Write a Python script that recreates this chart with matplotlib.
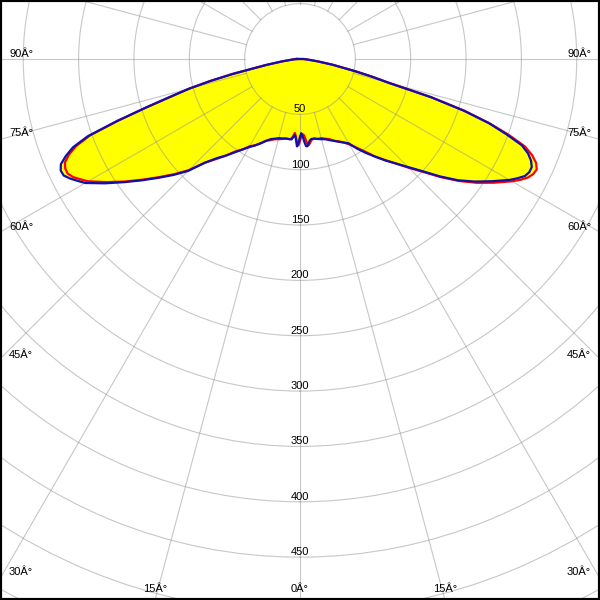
import numpy as np
import matplotlib
matplotlib.use('Agg')
import matplotlib.pyplot as plt
from matplotlib.patches import Rectangle

# angulos gamma (negativo = lado izquierdo) y valores en cd
gamma = [-90, -87.5, -85, -82.5, -80, -77.5, -76.25, -75, -73.75, -72.5, -71.25, -70,
         -68.75, -67.5, -66.25, -65, -63.75, -62.5, -61.25, -60, -57.5, -55, -52.5, -50,
         -47.5, -45, -42.5, -40, -37.5, -35, -32.5, -30, -27.5, -25, -22.5, -20, -17.5,
         -15, -12.5, -10,
         -8, -7, -6, -5, -4, -3, -2, -1, 0, 1, 2, 3, 4, 5, 6, 7, 8,
         10, 12.5, 15, 17.5, 20, 22.5, 25, 27.5, 30, 32.5, 35, 37.5, 40, 42.5, 45,
         47.5, 50, 52.5, 55, 57.5, 60, 61.25, 62.5, 63.75, 65, 66.25, 67.5, 68.75,
         70, 71.25, 72.5, 73.75, 75, 76.25, 77.5, 80, 82.5, 85, 87.5, 90]

blue_cd = [3, 5, 8, 16, 31, 62, 83, 104, 122, 146, 175, 204,
           220, 229, 236, 238.5, 238, 234, 229, 224, 209, 194, 180, 167,
           155, 143, 127, 117, 110, 103, 97, 92, 88, 84, 80, 77, 75.5,
           74, 73.5, 73,
           73, 73, 73, 71, 69, 72, 79, 76, 70, 67, 70, 75, 79, 79, 76, 74, 73,
           73, 74, 75, 76, 78, 80, 82.5, 85, 88, 96, 103.5, 111, 119.5, 128, 138,
           150, 165, 180, 193, 205.5, 218.5, 224, 229, 231, 231, 228, 223, 215,
           198, 180, 155, 123, 82, 66, 51, 30, 16, 8, 5, 3]

red_cd = [3, 5, 8, 16, 31, 62, 83, 104, 122, 146, 174, 202,
          217, 226, 232, 234, 234, 231, 226, 221, 207, 193, 179, 166,
          154, 142, 127, 118, 110, 102, 97, 91, 88, 84, 80, 78, 76,
          75, 74, 73,
          73, 73, 72, 70, 67, 70, 76, 78, 74, 70, 68, 69, 73, 77, 78, 76, 74,
          73, 74, 74, 75.5, 77, 80, 82, 85, 89, 95, 102, 111, 119, 128, 139,
          151, 166, 181, 195, 208, 221, 227, 232, 235, 236, 233, 227, 218,
          201, 181, 156, 124, 84, 67, 52, 30, 16, 8, 5, 3]

ring_values = [50, 100, 150, 200, 250, 300, 350, 400, 450, 500, 550]
ring_labels = ['50', '100', '150', '200', '250', '300', '350', '400', '450']
spoke_angles = list(range(0, 360, 15))

# etiquetas de angulo: (texto, x px, y px, alineacion)
angle_labels = [
    ('90Â°', 9, 54, 'left'), ('75Â°', 9, 133, 'left'), ('60Â°', 9, 227, 'left'),
    ('45Â°', 9, 355, 'left'), ('30Â°', 9, 572, 'left'),
    ('90Â°', 591, 54, 'right'), ('75Â°', 591, 133, 'right'), ('60Â°', 591, 227, 'right'),
    ('45Â°', 591, 355, 'right'), ('30Â°', 591, 572, 'right'),
    ('15Â°', 155, 589, 'center'), ('0Â°', 300, 589, 'center'), ('15Â°', 445, 589, 'center'),
]

plt.rcParams['font.family'] = ['Liberation Sans', 'DejaVu Sans']

fig = plt.figure(figsize=(6, 6), dpi=100)
fig.patch.set_facecolor('white')

cx, cy = 0.5, 1 - 59 / 600
rmax = 600
R = rmax * 1.107 / 600
ax = fig.add_axes([cx - R, cy - R, 2 * R, 2 * R], projection='polar')
ax.set_theta_zero_location('S')
ax.set_ylim(0, rmax)
ax.spines['polar'].set_visible(False)
ax.set_xticks([])
ax.set_rgrids(ring_values, labels=[''] * len(ring_values))
ax.yaxis.grid(True, color='#909090', alpha=0.5, lw=0.8)
ax.set_axisbelow(False)

th = np.deg2rad(gamma)
ax.fill(th, red_cd, color='#ffff00', lw=0, zorder=1)
ax.fill(th, blue_cd, color='#ffff00', lw=0, zorder=1)

for a in spoke_angles:
    t = np.deg2rad(a)
    ax.plot([t, t], [50, rmax], color='#909090', alpha=0.5, lw=0.8, zorder=2)

# cerrar la curva por arriba
th_c = np.append(th, th[0])
ax.plot(th_c, np.append(red_cd, red_cd[0]), color='#ff0000', lw=1.6, zorder=4)
ax.plot(th_c, np.append(blue_cd, blue_cd[0]), color='#1010b0', lw=1.6, zorder=5)

for v, s in zip(ring_values, ring_labels):
    ax.text(0, v, s, ha='center', va='bottom', fontsize=8, color='black', zorder=6)

for s, x, y, ha in angle_labels:
    fig.text(x / 600, 1 - y / 600, s, ha=ha, va='center', fontsize=8, color='black')

fig.patches.append(Rectangle((0, 0), 1, 1, transform=fig.transFigure, fill=False,
                             ec='black', lw=3, zorder=10))

fig.savefig('out.png', dpi=100)
